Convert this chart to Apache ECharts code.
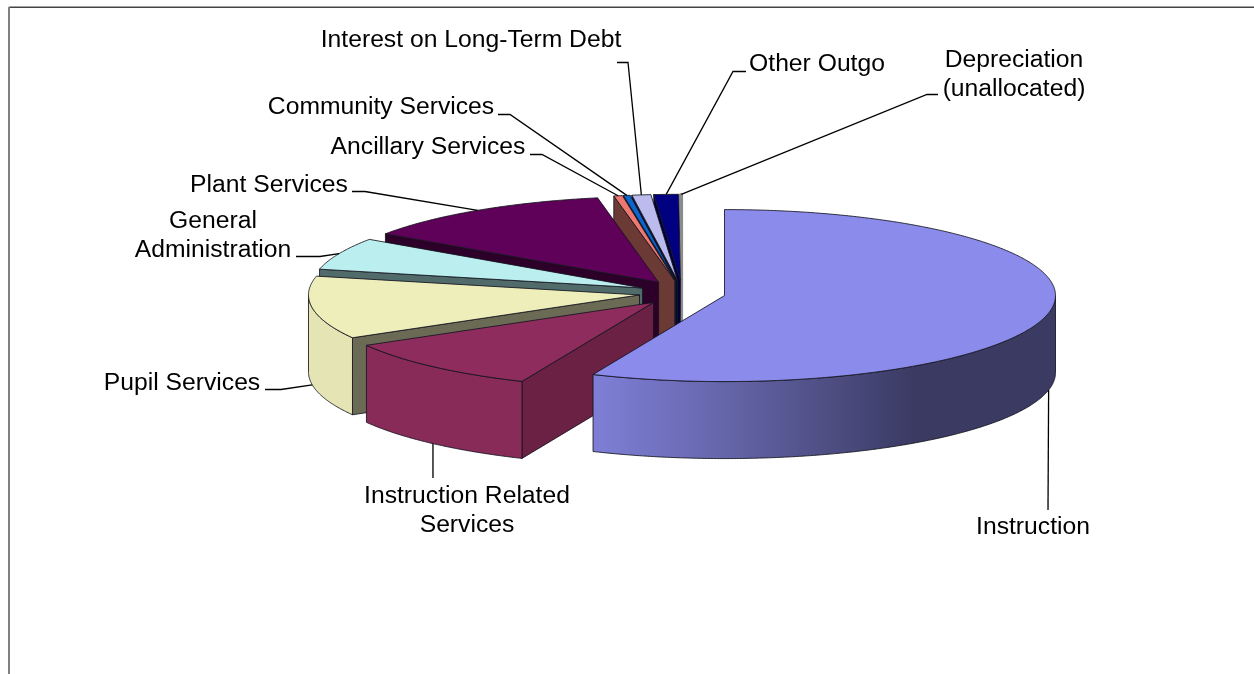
<!DOCTYPE html>
<html>
<head>
<meta charset="utf-8">
<style>html,body{margin:0;padding:0;background:#fff}#chart{width:1254px;height:674px}</style>
<script src="https://cdn.jsdelivr.net/npm/echarts@6/dist/echarts.min.js"></script>
</head>
<body>
<div id="chart"></div>
<script>
// Expenditure shares by function, percent of total
const categories = ['Instruction', 'Instruction Related Services', 'Pupil Services', 'General Administration', 'Plant Services', 'Ancillary Services', 'Community Services', 'Interest on Long-Term Debt', 'Other Outgo', 'Depreciation (unallocated)'];
const shares = [56.5, 10.2, 11.8, 6.05, 12.5, 0.42, 0.33, 0.92, 1.2, 0.08];
const topColors = ['#8b8beb', '#8e2d5d', '#eeeebb', '#bbeeee', '#5f0059', '#ee7770', '#0a66cc', '#bbbbee', '#000080', '#a0a0a0'];
const wallColors = ['#3c3c66', '#6b2143', '#6b6b55', '#516b6b', '#2d002a', '#6c3a35', '#0b2d5a', '#0a0a30', '#00003a', '#8c8c8c'];

// Label text lines, their centres, and the elbow of each leader line
const labelLines = [['Instruction'], ['Instruction Related', 'Services'], ['Pupil Services'], ['General', 'Administration'], ['Plant Services'], ['Ancillary Services'], ['Community Services'], ['Interest on Long-Term Debt'], ['Other Outgo'], ['Depreciation', '(unallocated)']];
const labelCentres = [[1033, 527], [467, 496], [182, 383], [213, 221], [269, 185], [428, 147], [381, 107], [471, 40], [817, 64], [1014, 60]];
const leaderPaths = [
  [[1048, 510]],
  [[433, 478]],
  [[265, 389.5], [281, 389.5]],
  [[296, 256.5], [320, 256.5]],
  [[352, 191.5], [365, 191.5]],
  [[530, 154.5], [542, 154.5]],
  [[498, 114.5], [510, 114.5]],
  [[617, 62.5], [628, 62.5]],
  [[746, 71.5], [733, 71.5]],
  [[938, 94.5], [927, 94.5]]
];

// Projection of the tilted pie onto the page
const pie = { cx: 682.2, cy: 293, rx: 331, ry: 86, depth: 77, popX: 43.2, popY: 12.7 };
const fontFamily = '"Liberation Sans", Arial, sans-serif';
const labelSize = 24.7;

const rad = d => d * Math.PI / 180;
const total = shares.reduce((a, b) => a + b, 0);
let running = 0;
const spans = shares.map(v => {
  const start = running / total * 360;
  running += v;
  return { start, end: running / total * 360, mid: (start + running / total * 360) / 2 };
});

const apexOf = s => [pie.cx + pie.popX * Math.sin(rad(s.mid)), pie.cy - pie.popY * Math.cos(rad(s.mid))];
const rimPoint = (apex, deg, drop) => [apex[0] + pie.rx * Math.sin(rad(deg)), apex[1] - pie.ry * Math.cos(rad(deg)) + drop];
function arcPoints(apex, from, to, drop) {
  const pts = [];
  const n = Math.max(2, Math.ceil((to - from) * 2));
  for (let i = 0; i <= n; i++) pts.push(rimPoint(apex, from + (to - from) * i / n, drop));
  return pts;
}

// Brightness of the curved rim falls off toward the right of the pie
const rimLight = [[300, 0.96], [520, 0.96], [595, 0.91], [700, 0.76], [815, 0.58], [915, 0.42], [1060, 0.42]];
function scaleHex(hex, k) {
  const n = parseInt(hex.slice(1), 16);
  const c = s => Math.round(((n >> s) & 255) * k);
  return `rgb(${c(16)},${c(8)},${c(0)})`;
}
function rimFill(hex) {
  const x0 = rimLight[0][0], x1 = rimLight[rimLight.length - 1][0];
  return {
    type: 'linear', x: x0, y: 0, x2: x1, y2: 0, global: true,
    colorStops: rimLight.map(([x, k]) => ({ offset: (x - x0) / (x1 - x0), color: scaleHex(hex, k) }))
  };
}

const edge = { stroke: 'rgba(20,20,30,0.85)', lineWidth: 1, lineJoin: 'round' };

function renderSlice(params, api) {
  const i = api.value(0);
  const s = spans[i];
  const apex = apexOf(s);
  const children = [];
  const poly = (points, fill, extra) => children.push({
    type: 'polygon', shape: { points }, style: Object.assign({ fill }, edge, extra || {})
  });
  const wall = deg => {
    const r = rimPoint(apex, deg, 0);
    return [apex, r, [r[0], r[1] + pie.depth], [apex[0], apex[1] + pie.depth]];
  };
  const isSliver = shares[i] < 0.2;
  // Radial cut faces turned toward the viewer
  if (Math.sin(rad(s.start)) < 0) poly(wall(s.start), wallColors[i], isSliver ? { stroke: wallColors[i], lineWidth: 2 } : null);
  if (Math.sin(rad(s.end)) > 0) poly(wall(s.end), wallColors[i]);
  // Curved outer rim, front half only
  const a = Math.max(s.start, 90), b = Math.min(s.end, 270);
  if (b > a) {
    poly(arcPoints(apex, a, b, 0).concat(arcPoints(apex, a, b, pie.depth).reverse()), rimFill(topColors[i]));
  }
  // Top face
  poly([apex].concat(arcPoints(apex, s.start, s.end, 0)), topColors[i], isSliver ? { stroke: wallColors[i], lineWidth: 2 } : null);
  return { type: 'group', children };
}

function renderLabel(params, api) {
  const i = api.value(0);
  const s = spans[i];
  const apex = apexOf(s);
  const front = s.mid > 90 && s.mid < 270;
  const anchor = rimPoint(apex, s.mid, front ? pie.depth : 0);
  const [cx, cy] = labelCentres[i];
  const children = [{
    type: 'polyline',
    shape: { points: leaderPaths[i].concat([anchor]) },
    style: { fill: null, stroke: '#000', lineWidth: 1.3 }
  }];
  labelLines[i].forEach((line, k) => children.push({
    type: 'text',
    style: { text: line, x: cx, y: cy + k * 29, align: 'center', verticalAlign: 'middle', font: `${labelSize}px ${fontFamily}`, fill: '#000' }
  }));
  return { type: 'group', children };
}

// Back slices first, so nearer ones cover them
const drawOrder = shares.map((v, i) => ({ name: categories[i], value: [i, v] })).reverse();

const chart = echarts.init(document.getElementById('chart'), null, { renderer: 'canvas' });
chart.setOption({
  animation: false,
  backgroundColor: '#fff',
  graphic: [
    { type: 'line', silent: true, shape: { x1: 9, y1: 7.3, x2: 1254, y2: 7.3 }, style: { stroke: '#444', lineWidth: 1.4 } },
    { type: 'line', silent: true, shape: { x1: 9, y1: 7, x2: 9, y2: 674 }, style: { stroke: '#808080', lineWidth: 2 } }
  ],
  series: [
    { type: 'custom', coordinateSystem: 'none', silent: true, clip: false, data: drawOrder, renderItem: renderSlice, z: 2 },
    { type: 'custom', coordinateSystem: 'none', silent: true, clip: false, data: drawOrder, renderItem: renderLabel, z: 3 }
  ]
});
</script>
</body>
</html>
